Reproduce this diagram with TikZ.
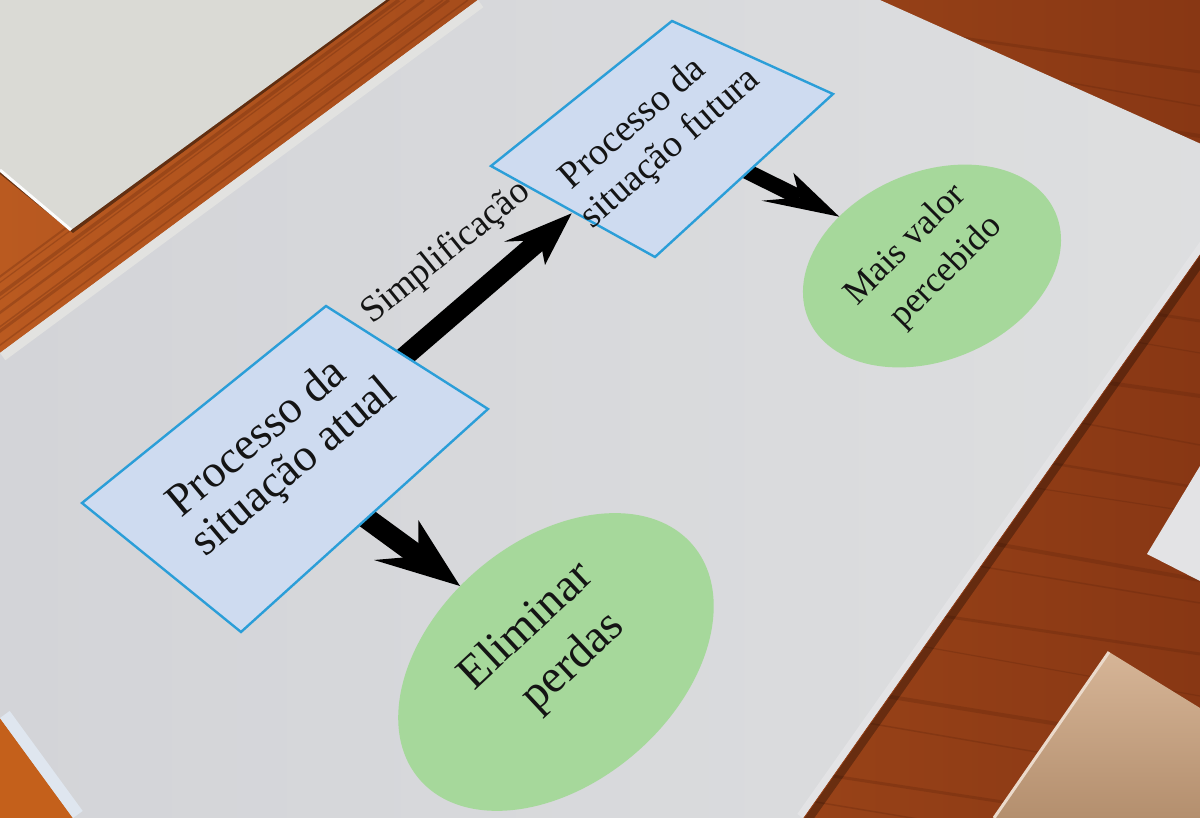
\documentclass[tikz,border=0pt]{standalone}
\usepackage{fontspec}
\setmainfont{Liberation Serif}
\usetikzlibrary{arrows.meta}
\definecolor{woodA}{HTML}{BA5A20}
\definecolor{woodB}{HTML}{883714}
\definecolor{woodC}{HTML}{5E230B}
\definecolor{paperL}{HTML}{DEDFE0}
\definecolor{paperD}{HTML}{D3D4D8}
\definecolor{scrap}{HTML}{DADAD5}
\definecolor{edgeW}{HTML}{E2E2E0}
\definecolor{edgeB}{HTML}{DFE6EF}
\definecolor{boxfill}{HTML}{CEDBF0}
\definecolor{boxline}{HTML}{2B9ED8}
\definecolor{ellfill}{HTML}{A6D89B}
\definecolor{tanL}{HTML}{D6B597}
\definecolor{tanD}{HTML}{B48F6E}
\definecolor{sheet}{HTML}{E3E3E5}
\begin{document}
\begin{tikzpicture}[x=1pt,y=1pt,
  boxstyle/.style={fill=boxfill,draw=boxline,line width=2.4pt,line join=miter},
  ellstyle/.style={fill=ellfill},
  shaft/.style={draw=black,line width=#1,line cap=butt},
  headstyle/.style={fill=black},
  txt/.style={transform shape,align=center,inner sep=0pt,text=black!92},
  streak/.style={draw=woodC,opacity=0.28,line width=#1}]
\useasboundingbox (0,0) rectangle (1200,-818);
\clip (0,0) rectangle (1200,-818);
% ---------- wood table ----------
\shade[left color=woodA,right color=woodB] (0,0) rectangle (1200,-818);
\foreach \d/\w in {3/2,11/1.2,27/3.5,34/1.2,52/2.5,71/1.5,77/3,96/1.5}{
  \draw[streak=\w] ({372+\d},0) -- ({372+\d-560},-413);
}
\foreach \y/\s/\w in {-12/-60/3,-31/-75/1.5,-74/-62/4,-98/-70/1.5,-147/-80/2.5,-255/-66/3,-281/-72/1.2,-336/-60/4,-367/-78/1.5,-418/-70/2.5,-449/-64/1.2,-506/-74/4,-533/-70/1.5,-592/-62/3,-621/-75/1.2,-679/-68/4,-708/-72/1.5,-768/-64/3,-796/-70/1.5}{
  \draw[streak=\w] (780,\y) -- (1200,{\y+\s});
}
\fill[woodA!85!orange] (0,-690) -- (110,-818) -- (0,-818) -- cycle;
% ---------- other sheets ----------
\fill[black,opacity=0.45] (0,0) -- (390,0) -- (73,-233) -- (0,-174) -- cycle;
\fill[scrap] (0,0) -- (386,0) -- (71,-230) -- (0,-170) -- cycle;
\draw[white!92!scrap,line width=3] (0,-170) -- (71,-230);
\fill[sheet] (1200,-466) -- (1147,-554) -- (1200,-581) -- cycle;
\shade[top color=tanL,bottom color=tanD] (1109,-652) -- (1200,-708) -- (1200,-818) -- (994,-818) -- cycle;
\draw[tanL!50!white,line width=3] (1109,-652) -- (994,-818);
% ---------- main sheet ----------
\draw[black,opacity=0.3,line width=8] (1264,-172) -- (808,-820);
\shade[left color=paperD,right color=paperL] (0,-353) -- (478,0) -- (880,0) -- (1259,-170) -- (803,-818) -- (73,-818) -- (0,-718) -- cycle;
\begin{scope}
  \clip (0,-353) -- (478,0) -- (880,0) -- (1259,-170) -- (803,-818) -- (73,-818) -- (0,-718) -- cycle;
  \draw[edgeW,line width=18] (0,-353) -- (478,0);
  \draw[edgeB,line width=24] (0,-718) -- (73,-818);
  \draw[sheet,line width=14] (1259,-170) -- (803,-818);
\end{scope}
% ---------- diagram coordinates ----------
\coordinate (b1L) at (82,-503);
\coordinate (b1T) at (326,-306);
\coordinate (b1R) at (488,-409);
\coordinate (b1B) at (241,-632);
\coordinate (b2L) at (491,-166);
\coordinate (b2T) at (672,-21);
\coordinate (b2R) at (833,-94);
\coordinate (b2B) at (655,-257);
\coordinate (e1) at (556,-662);
\coordinate (e2) at (932,-266);
% ---------- ellipses ----------
\fill[ellstyle,rotate around={40.6:(e1)}] (e1) ellipse [x radius=180,y radius=121];
\fill[ellstyle,rotate around={23.3:(e2)}] (e2) ellipse [x radius=134.5,y radius=94];
% ---------- arrows ----------
\coordinate (a1s) at (396,-364);
\coordinate (a1n) at (540,-240);
\coordinate (a1t) at (571.7,-213.3);
\coordinate (a1p) at (504,-241.7);
\coordinate (a1q) at (545,-265);
\draw[shaft=20] (a1s) -- (a1n);
\fill[headstyle] (a1t) -- (a1p) -- (a1n) -- (a1q) -- cycle;
\coordinate (a2s) at (358,-512);
\coordinate (a2n) at (418.6,-556.2);
\coordinate (a2t) at (460,-586);
\coordinate (a2p) at (418.3,-520);
\coordinate (a2q) at (374,-560);
\draw[shaft=21] (a2s) -- (a2n);
\fill[headstyle] (a2t) -- (a2p) -- (a2n) -- (a2q) -- cycle;
\coordinate (a3s) at (740,-168);
\coordinate (a3n) at (799.7,-197.5);
\coordinate (a3t) at (839.3,-216.7);
\coordinate (a3p) at (793.3,-172.7);
\coordinate (a3q) at (761.7,-200.7);
\draw[shaft=15.5] (a3s) -- (a3n);
\fill[headstyle] (a3t) -- (a3p) -- (a3n) -- (a3q) -- cycle;
% ---------- boxes ----------
\filldraw[boxstyle] (b1L) -- (b1T) -- (b1R) -- (b1B) -- cycle;
\filldraw[boxstyle] (b2L) -- (b2T) -- (b2R) -- (b2B) -- cycle;
% ---------- texts ----------
\begin{scope}[cm={0.7660,0.6428,-0.6428,0.7660,(280.5,-462)}]
  \node[txt,font=\fontsize{46}{46}\selectfont] (t1) at (-3,9) {Processo da\\\hspace*{20pt}situação atual};
\end{scope}
\begin{scope}[cm={0.7547,0.6561,-0.6561,0.7547,(656,-144)}]
  \node[txt,font=\fontsize{38}{43}\selectfont] (t2) at (-4,8) {Processo da\\\hspace*{24pt}situação futura};
\end{scope}
\begin{scope}[cm={0.7314,0.6820,-0.6820,0.7314,(552,-657)}]
  \node[txt,font=\fontsize{47}{58}\selectfont] (t3) at (2,10) {Eliminar\\\hspace*{20pt}perdas};
\end{scope}
\begin{scope}[cm={0.7071,0.7071,-0.7071,0.7071,(930,-266.5)}]
  \node[txt,font=\fontsize{36}{48}\selectfont] (t4) at (-2,8) {Mais valor\\\hspace*{20pt}percebido};
\end{scope}
\begin{scope}[cm={0.7771,0.6293,-0.6293,0.7771,(447.5,-261)}]
  \node[txt,font=\fontsize{37}{40}\selectfont,anchor=base] (t5) at (4,-2) {Simplificação};
\end{scope}
\end{tikzpicture}
\end{document}
